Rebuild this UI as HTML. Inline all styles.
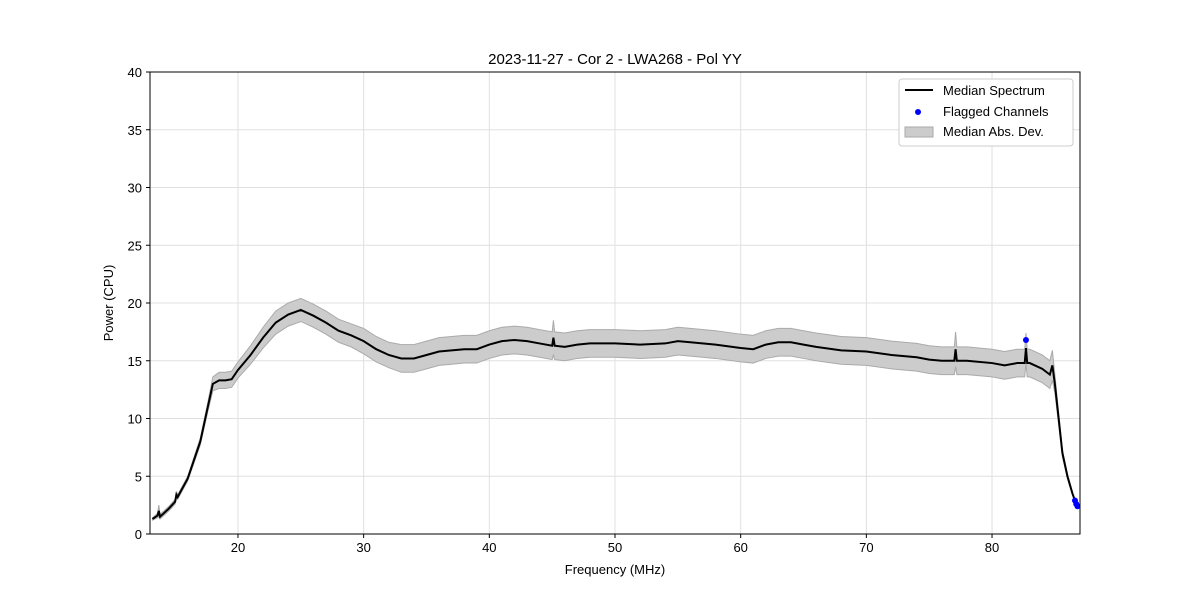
<!DOCTYPE html>
<html><head><meta charset="utf-8"><style>
body{margin:0;background:#fff;font-family:"Liberation Sans",sans-serif}
svg text{font-family:"Liberation Sans",sans-serif;fill:#000}
</style></head><body>
<svg id="c" width="1200" height="600">
<rect width="1200" height="600" fill="#fff"/>
<text x="615" y="64" text-anchor="middle" font-size="15">2023-11-27 - Cor 2 - LWA268 - Pol YY</text>
<g id="grid"></g><g id="marks"></g><g id="axes"></g>
<text x="615" y="574" text-anchor="middle" font-size="13">Frequency (MHz)</text>
<text transform="translate(113,303) rotate(-90)" text-anchor="middle" font-size="13">Power (CPU)</text>
<g>
<rect x="899" y="79" width="174" height="67" rx="3" fill="#fff" stroke="#ccc"/>
<line x1="905" y1="90" x2="933" y2="90" stroke="#000" stroke-width="2"/>
<text x="943" y="95" font-size="13">Median Spectrum</text>
<circle cx="918" cy="112" r="3" fill="#00f"/>
<text x="943" y="116" font-size="13">Flagged Channels</text>
<rect x="905" y="127" width="28" height="10" fill="#ccc" stroke="#aaa"/>
<text x="943" y="136" font-size="13">Median Abs. Dev.</text>
</g>
</svg>
<script>
const freq=[13.2,13.6,13.7,13.8,14.5,15.0,15.1,15.2,16,17,17.6,18,18.5,19,19.5,20,21,22,23,24,25,26,27,28,29,30,31,32,33,34,35,36,37,38,39,40,41,42,43,44,45,45.1,45.2,46,47,48,50,52,54,55,56,58,60,61,62,63,64,65,66,68,70,72,74,75,76,77,77.1,77.2,78,80,81,82,82.6,82.7,82.8,83,84,84.6,84.8,85,85.3,85.6,86,86.4,86.8];
const median=[1.3,1.6,2.0,1.5,2.2,2.8,3.4,3.2,4.8,8,11,13.0,13.3,13.3,13.4,14.2,15.5,17.0,18.3,19.0,19.4,18.9,18.3,17.6,17.2,16.7,16.0,15.5,15.2,15.2,15.5,15.8,15.9,16.0,16.0,16.4,16.7,16.8,16.7,16.5,16.3,17.0,16.3,16.2,16.4,16.5,16.5,16.4,16.5,16.7,16.6,16.4,16.1,16.0,16.4,16.6,16.6,16.4,16.2,15.9,15.8,15.5,15.3,15.1,15.0,15.0,16.0,15.0,15.0,14.8,14.6,14.8,14.8,16.1,14.8,14.8,14.3,13.8,14.6,13.0,10,7,5,3.5,2.3];
const mad=[0.1,0.2,0.5,0.2,0.2,0.2,0.3,0.2,0.2,0.3,0.4,0.6,0.7,0.7,0.7,0.7,0.8,0.9,1.0,1.0,1.0,1.0,1.0,1.0,1.0,1.1,1.1,1.1,1.2,1.2,1.2,1.2,1.2,1.2,1.2,1.2,1.2,1.2,1.2,1.2,1.2,1.5,1.2,1.2,1.2,1.2,1.2,1.2,1.2,1.2,1.2,1.2,1.2,1.2,1.2,1.2,1.2,1.2,1.2,1.2,1.2,1.2,1.2,1.2,1.2,1.2,1.5,1.2,1.2,1.2,1.2,1.2,1.2,1.3,1.2,1.2,1.2,1.2,1.3,0.8,0.5,0.3,0.2,0.1,0.1];
const flagF=[82.7,86.6,86.7,86.8];
const flagV=[16.8,2.9,2.6,2.4];
const xTicks=[20,30,40,50,60,70,80];
const yTicks=[0,5,10,15,20,25,30,35,40];
const X0=150,X1=1080,Y0=534,Y1=72,xmin=13.0,xmax=87.0,ymin=0,ymax=40;
const sx=v=>X0+(v-xmin)/(xmax-xmin)*(X1-X0);
const sy=v=>Y0-(v-ymin)/(ymax-ymin)*(Y0-Y1);
const NS="http://www.w3.org/2000/svg";
function mk(t,a,p){const e=document.createElementNS(NS,t);for(const k in a)e.setAttribute(k,a[k]);p.appendChild(e);return e;}
const G=document.getElementById('grid'),M=document.getElementById('marks'),A=document.getElementById('axes');
xTicks.forEach(t=>{
 const g=mk('line',{x1:sx(t),x2:sx(t),y1:Y1,y2:Y0,stroke:'#e0e0e0'},G);
 
 
 mk('line',{x1:sx(t),x2:sx(t),y1:Y0,y2:Y0+4,stroke:'#000'},A);
 const tx=mk('text',{x:sx(t),y:Y0+18,'text-anchor':'middle','font-size':13},A);tx.textContent=t;
 
 
});
yTicks.forEach(t=>{
 const g=mk('line',{x1:X0,x2:X1,y1:sy(t),y2:sy(t),stroke:'#e0e0e0'},G);
 
 
 mk('line',{x1:X0-4,x2:X0,y1:sy(t),y2:sy(t),stroke:'#000'},A);
 const tx=mk('text',{x:X0-8,y:sy(t)+5,'text-anchor':'end','font-size':13},A);tx.textContent=t;
 
 
});
let up=freq.map((f,i)=>sx(f)+','+sy(median[i]+mad[i]));
let dn=freq.map((f,i)=>sx(f)+','+sy(median[i]-mad[i])).reverse();
const band=mk('polygon',{points:up.concat(dn).join(' '),fill:'#cccccc',stroke:'#aaa','stroke-width':1},M);


const line=mk('polyline',{points:freq.map((f,i)=>sx(f)+','+sy(median[i])).join(' '),fill:'none',stroke:'#000','stroke-width':2},M);


flagF.forEach((f,i)=>{
 const c=mk('circle',{cx:sx(f),cy:sy(flagV[i]),r:3,fill:'#00f'},M);
 
 
});
const fr=mk('rect',{x:X0,y:Y1,width:X1-X0,height:Y0-Y1,fill:'none',stroke:'#000'},A);


</script>
</body></html>
